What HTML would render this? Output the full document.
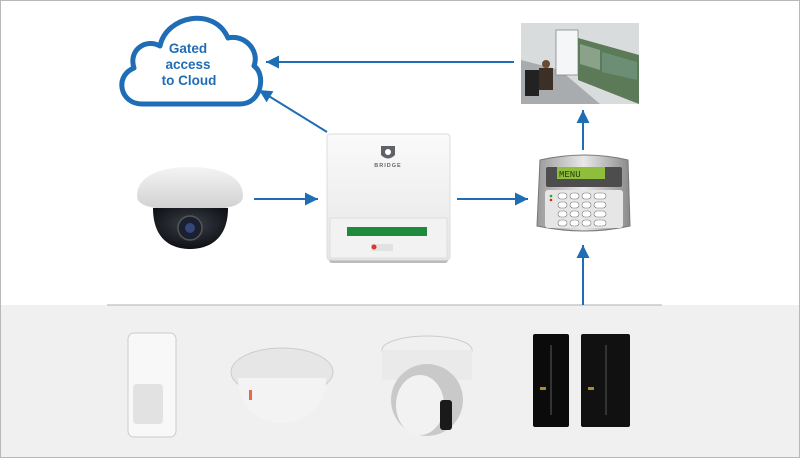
<!DOCTYPE html>
<html><head><meta charset="utf-8"><style>
html,body{margin:0;padding:0;background:#fff;}
svg{display:block;}
</style></head><body>
<svg width="800" height="458" viewBox="0 0 800 458" xmlns="http://www.w3.org/2000/svg">
<defs>
<linearGradient id="wd" x1="0" y1="0" x2="0" y2="1"><stop offset="0" stop-color="#f4f4f4"/><stop offset="1" stop-color="#d0d0d0"/></linearGradient>
<radialGradient id="dk" cx="0.5" cy="0.4" r="0.6"><stop offset="0" stop-color="#3a3f48"/><stop offset="1" stop-color="#0e1014"/></radialGradient>
<linearGradient id="kp" x1="0" y1="0" x2="1" y2="0"><stop offset="0" stop-color="#9a9a9a"/><stop offset="0.5" stop-color="#e8e8e8"/><stop offset="1" stop-color="#8a8a8a"/></linearGradient>
<linearGradient id="bx" x1="0" y1="0" x2="0" y2="1"><stop offset="0" stop-color="#fafafa"/><stop offset="1" stop-color="#e6e6e6"/></linearGradient>
<marker id="ah" markerWidth="14" markerHeight="14" refX="13" refY="6.5" orient="auto" markerUnits="userSpaceOnUse"><path d="M0,0 L13,6.5 L0,13 z" fill="#1f6db5"/></marker>
</defs>
<rect x="0.5" y="0.5" width="799" height="457" fill="#fff" stroke="#b8b8b8"/>
<rect x="1" y="305" width="798" height="152" fill="#f0f0f0"/>
<line x1="107" y1="305" x2="662" y2="305" stroke="#c8c8c8" stroke-width="1.5"/>

<!-- cloud -->
<path d="M142,104 C120,104 114,76 134,68 C128,50 146,38 160,46 C166,16 214,6 228,38 C244,34 260,50 254,66 C266,74 262,104 240,104 Z" fill="none" stroke="#1f6db5" stroke-width="5" stroke-linejoin="round"/>
<g font-family="Liberation Sans, sans-serif" font-weight="bold" font-size="13.5" fill="#1f6db5" text-anchor="middle">
<text x="188" y="53">Gated</text><text x="188" y="69">access</text><text x="189" y="85">to Cloud</text></g>

<!-- arrows -->
<g stroke="#1f6db5" stroke-width="2" fill="none" marker-end="url(#ah)">
<line x1="514" y1="62" x2="266" y2="62"/>
<line x1="327" y1="132" x2="259" y2="90"/>
<line x1="254" y1="199" x2="318" y2="199"/>
<line x1="457" y1="199" x2="528" y2="199"/>
<line x1="583" y1="150" x2="583" y2="110"/>
<line x1="583" y1="305" x2="583" y2="245"/>
</g>

<!-- monitor room photo -->
<rect x="521" y="23" width="118" height="81" fill="#d9dcdc"/>
<polygon points="521,60 521,104 600,104 560,70" fill="#a9acae"/>
<rect x="556" y="30" width="22" height="45" fill="#f4f6f8" stroke="#888" stroke-width="0.8"/>
<polygon points="578,38 639,55 639,104 578,80" fill="#5c7a58"/>
<polygon points="580,44 600,50 600,70 580,64" fill="#8aa18a"/>
<polygon points="602,52 637,62 637,80 602,72" fill="#6b8e74"/>
<circle cx="546" cy="64" r="4" fill="#6b4a32"/>
<rect x="539" y="68" width="14" height="22" fill="#3b2f26"/>
<rect x="525" y="70" width="14" height="26" fill="#222"/>

<!-- camera -->
<path d="M137,196 C137,176 160,167 190,167 C220,167 243,176 243,196 C243,206 228,210 190,210 C152,210 137,206 137,196 Z" fill="url(#wd)"/>
<path d="M153,208 C153,240 172,249 190,249 C208,249 228,240 228,208 Z" fill="url(#dk)"/>
<circle cx="190" cy="228" r="12" fill="#1b2030" stroke="#555" stroke-width="1.5"/>
<circle cx="190" cy="228" r="5" fill="#35467a"/>

<!-- bridge box -->
<rect x="329" y="257" width="119" height="6" fill="#bbb" rx="3"/>
<rect x="327" y="134" width="123" height="126" rx="3" fill="url(#bx)" stroke="#ddd"/>
<path d="M381,146 L395,146 L395,155 Q388,162 381,155 Z" fill="#5f6368"/>
<circle cx="388" cy="152" r="3" fill="#fff"/>
<text x="388" y="167" font-family="Liberation Sans, sans-serif" font-size="5.5" font-weight="bold" fill="#666" text-anchor="middle" letter-spacing="1">BRIDGE</text>
<rect x="330" y="218" width="117" height="40" fill="#f2f2f2" stroke="#ddd"/>
<rect x="347" y="227" width="80" height="9" fill="#1f8a3c"/>
<rect x="371" y="244" width="22" height="7" fill="#e2e2e2"/>
<circle cx="374" cy="247" r="2.5" fill="#d33"/>

<!-- keypad -->
<path d="M540,160 Q585,150 628,160 L630,226 Q585,236 537,226 Z" fill="url(#kp)" stroke="#777" stroke-width="1"/>
<rect x="546" y="167" width="76" height="20" fill="#4d4d4d" rx="2"/>
<rect x="557" y="167" width="48" height="12" fill="#8fbd3c"/>
<text x="559" y="177" font-family="Liberation Mono, monospace" font-size="9" fill="#2a3a10">MENU</text>
<rect x="545" y="190" width="78" height="38" fill="#e6e6e6" rx="3"/>
<g fill="#fff" stroke="#777" stroke-width="0.6">
<rect x="558" y="193" width="9" height="6" rx="3"/><rect x="570" y="193" width="9" height="6" rx="3"/><rect x="582" y="193" width="9" height="6" rx="3"/><rect x="594" y="193" width="12" height="6" rx="3"/>
<rect x="558" y="202" width="9" height="6" rx="3"/><rect x="570" y="202" width="9" height="6" rx="3"/><rect x="582" y="202" width="9" height="6" rx="3"/><rect x="594" y="202" width="12" height="6" rx="3"/>
<rect x="558" y="211" width="9" height="6" rx="3"/><rect x="570" y="211" width="9" height="6" rx="3"/><rect x="582" y="211" width="9" height="6" rx="3"/><rect x="594" y="211" width="12" height="6" rx="3"/>
<rect x="558" y="220" width="9" height="6" rx="3"/><rect x="570" y="220" width="9" height="6" rx="3"/><rect x="582" y="220" width="9" height="6" rx="3"/><rect x="594" y="220" width="12" height="6" rx="3"/>
</g>
<circle cx="551" cy="196" r="1.3" fill="#2a2"/><circle cx="551" cy="200" r="1.3" fill="#d22"/>

<!-- PIR -->
<rect x="128" y="333" width="48" height="104" rx="6" fill="#f8f8f8" stroke="#ccc"/>
<rect x="133" y="384" width="30" height="40" rx="4" fill="#e2e2e2"/>
<!-- dome sensor -->
<ellipse cx="282" cy="372" rx="51" ry="24" fill="#e6e6e6" stroke="#ccc"/>
<path d="M238,378 C238,410 262,423 282,423 C302,423 326,410 326,378 Z" fill="#f3f3f3"/>
<rect x="249" y="390" width="3" height="10" fill="#e46a4a"/>
<!-- PTZ -->
<ellipse cx="427" cy="350" rx="45" ry="14" fill="#f0f0f0" stroke="#ccc"/>
<rect x="382" y="350" width="90" height="30" fill="#eaeaea"/>
<ellipse cx="427" cy="400" rx="36" ry="36" fill="#c9c9c9"/>
<ellipse cx="420" cy="405" rx="24" ry="30" fill="#f2f2f2"/>
<rect x="440" y="400" width="12" height="30" fill="#1a1a1a" rx="3"/>
<!-- beams -->
<rect x="533" y="334" width="36" height="93" rx="2" fill="#0b0b0b"/>
<rect x="581" y="334" width="49" height="93" rx="2" fill="#111"/>
<rect x="550" y="345" width="2" height="70" fill="#333"/>
<rect x="605" y="345" width="2" height="70" fill="#333"/>
<rect x="540" y="387" width="6" height="3" fill="#b08a2a"/><rect x="588" y="387" width="6" height="3" fill="#b08a2a"/>
</svg>
</body></html>
